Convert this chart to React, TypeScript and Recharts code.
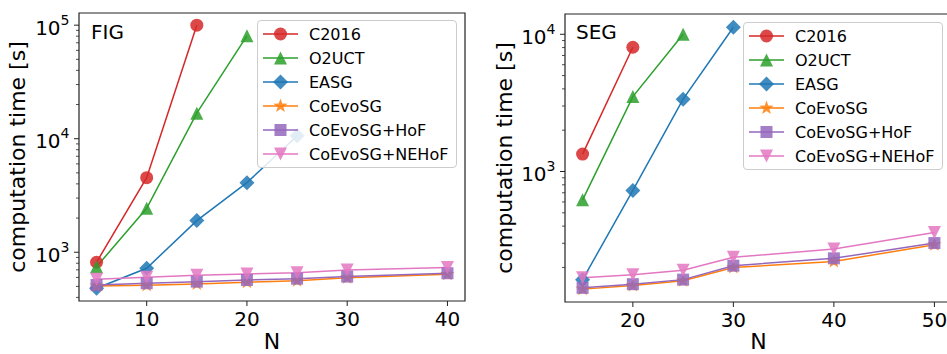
import { LineChart, Line, XAxis, YAxis, ReferenceArea, Legend } from "recharts";

// FIG panel
const FIG_N = [5, 10, 15, 20, 25, 30, 40];
const FIG_C2016 = [816, 4540, 100000];
const FIG_O2UCT = [745, 2440, 16800, 80500];
const FIG_EASG = [482, 722, 1900, 4100, 10600];
const FIG_COEVOSG = [505, 511, 525, 545, 562, 597, 640];
const FIG_HOF = [515, 533, 551, 570, 585, 610, 653];
const FIG_NEHOF = [578, 602, 627, 644, 661, 698, 732];

// SEG panel
const SEG_N = [15, 20, 25, 30, 40, 50];
const SEG_C2016 = [1339, 8040];
const SEG_O2UCT = [622, 3515, 10000];
const SEG_EASG = [163, 728, 3365, 11250];
const SEG_COEVOSG = [139, 148, 160, 200, 221, 293];
const SEG_HOF = [142, 151, 163, 206, 233, 301];
const SEG_NEHOF = [168, 177, 191, 237, 272, 359];

const FIG_X_TICKS = [10, 20, 30, 40];
const SEG_X_TICKS = [20, 30, 40, 50];
const FIG_Y_MAJOR = [1000, 10000, 100000];
const SEG_Y_MAJOR = [1000, 10000];

const SERIES = [
  { key: "c2016", name: "C2016", color: "#d62728", shape: "circle" },
  { key: "o2uct", name: "O2UCT", color: "#2ca02c", shape: "triUp" },
  { key: "easg", name: "EASG", color: "#1f77b4", shape: "diamond" },
  { key: "coevosg", name: "CoEvoSG", color: "#ff7f0e", shape: "star" },
  { key: "hof", name: "CoEvoSG+HoF", color: "#9467bd", shape: "square" },
  { key: "nehof", name: "CoEvoSG+NEHoF", color: "#e377c2", shape: "triDown" },
];

function buildRows(n: number[], cols: Record<string, number[]>) {
  return n.map((v, i) => {
    const row: any = { N: v };
    for (const k of Object.keys(cols)) row[k] = cols[k][i];
    return row;
  });
}

const figRows = buildRows(FIG_N, {
  c2016: FIG_C2016, o2uct: FIG_O2UCT, easg: FIG_EASG,
  coevosg: FIG_COEVOSG, hof: FIG_HOF, nehof: FIG_NEHOF,
});
const segRows = buildRows(SEG_N, {
  c2016: SEG_C2016, o2uct: SEG_O2UCT, easg: SEG_EASG,
  coevosg: SEG_COEVOSG, hof: SEG_HOF, nehof: SEG_NEHOF,
});

// major + minor log ticks inside the domain
function logTicks(domain: number[], majors: number[]) {
  const out: number[] = [];
  for (let d = 1; d <= 6; d++) {
    for (let k = 1; k <= 9; k++) {
      const v = k * Math.pow(10, d);
      if (v >= domain[0] && v <= domain[1]) out.push(v);
    }
  }
  return out.filter((v) => !majors.includes(v)).concat(majors).sort((a, b) => a - b);
}

function Marker({ shape, cx, cy, color }: { shape: string; cx: number; cy: number; color: string }) {
  const op = 0.85;
  if (shape === "circle") return <circle cx={cx} cy={cy} r={6.5} fill={color} fillOpacity={op} />;
  if (shape === "triUp") {
    const s = 6.5;
    return <polygon points={`${cx},${cy - s} ${cx - s},${cy + s} ${cx + s},${cy + s}`} fill={color} fillOpacity={op} />;
  }
  if (shape === "triDown") {
    const s = 6.5;
    return <polygon points={`${cx},${cy + s} ${cx - s},${cy - s} ${cx + s},${cy - s}`} fill={color} fillOpacity={op} />;
  }
  if (shape === "diamond") {
    const s = 7.5;
    return <polygon points={`${cx},${cy - s} ${cx + s},${cy} ${cx},${cy + s} ${cx - s},${cy}`} fill={color} fillOpacity={op} />;
  }
  if (shape === "square") {
    const s = 6;
    return <rect x={cx - s} y={cy - s} width={2 * s} height={2 * s} fill={color} fillOpacity={op} />;
  }
  // star
  const pts: string[] = [];
  for (let i = 0; i < 10; i++) {
    const r = i % 2 === 0 ? 7.5 : 3;
    const a = -Math.PI / 2 + (i * Math.PI) / 5;
    pts.push(`${cx + r * Math.cos(a)},${cy + r * Math.sin(a)}`);
  }
  return <polygon points={pts.join(" ")} fill={color} fillOpacity={op} />;
}

function makeDot(shape: string, color: string) {
  return (p: any) => {
    if (p.cx == null || p.cy == null || p.value == null || Number.isNaN(p.cy)) return <g key={`d-${p.index}`} />;
    return (
      <g key={`d-${p.index}`}>
        <Marker shape={shape} cx={p.cx} cy={p.cy} color={color} />
      </g>
    );
  };
}

const YTick = (props: any) => {
  const { x, y, payload } = props;
  const exp = Math.log10(payload.value);
  const major = Math.abs(exp - Math.round(exp)) < 1e-6;
  return (
    <g>
      <line x1={x} x2={x - (major ? 5 : 3)} y1={y} y2={y} stroke="#222" strokeWidth={major ? 1 : 0.8} />
      {major && (
        <text x={x - 9.5} y={y + 9.5} textAnchor="end" fontSize={20} fill="#000">
          10
          <tspan dy={-10} fontSize={14}>{Math.round(exp)}</tspan>
        </text>
      )}
    </g>
  );
};

const XTick = (props: any) => {
  const { x, y, payload } = props;
  return (
    <g>
      <line x1={x} x2={x} y1={y} y2={y + 5} stroke="#222" strokeWidth={1} />
      <text x={x} y={y + 25} textAnchor="middle" fontSize={20} fill="#000">
        {payload.value}
      </text>
    </g>
  );
};

function LegendBox() {
  return (
    <div
      style={{
        boxSizing: "border-box",
        width: 200,
        height: 148,
        border: "1px solid #cccccc",
        borderRadius: 4,
        background: "rgba(255,255,255,0.85)",
        paddingTop: 1,
      }}
    >
      {SERIES.map((s) => (
        <div key={s.key} style={{ display: "flex", alignItems: "center", height: 24 }}>
          <svg width={51} height={24} style={{ display: "block" }}>
            <line x1={5} x2={40} y1={12} y2={12} stroke={s.color} strokeWidth={1.5} />
            <Marker shape={s.shape} cx={22.5} cy={12} color={s.color} />
          </svg>
          <span style={{ fontSize: 16, color: "#000", whiteSpace: "nowrap" }}>{s.name}</span>
        </div>
      ))}
    </div>
  );
}

function Panel(props: {
  rows: any[];
  title: string;
  xDomain: number[];
  yDomain: number[];
  xTicks: number[];
  yMajor: number[];
  width: number;
  marginTop: number;
  marginRight: number;
  yAxisWidth: number;
  xAxisHeight: number;
  yLabelOffset: number;
  titleOffset: number;
  legendLeft: number;
  legendTop: number;
}) {
  const yTicks = logTicks(props.yDomain, props.yMajor);
  return (
    <LineChart
      width={props.width}
      height={354}
      data={props.rows}
      margin={{ top: props.marginTop, right: props.marginRight, left: 0, bottom: 0 }}
    >
      <XAxis
        dataKey="N"
        type="number"
        domain={props.xDomain}
        allowDataOverflow
        ticks={props.xTicks}
        interval={0}
        tick={<XTick />}
        tickLine={false}
        tickSize={0}
        tickMargin={0}
        axisLine={false}
        height={props.xAxisHeight}
        label={{ value: "N", position: "insideBottom", offset: 5, fontSize: 22, fill: "#000" }}
      />
      <YAxis
        type="number"
        scale="log"
        domain={props.yDomain}
        allowDataOverflow
        ticks={yTicks}
        interval={0}
        tick={<YTick />}
        tickLine={false}
        tickSize={0}
        tickMargin={0}
        axisLine={false}
        width={props.yAxisWidth}
        label={{
          value: "computation time [s]",
          angle: -90,
          position: "insideLeft",
          offset: props.yLabelOffset,
          fontSize: 22,
          fill: "#000",
          style: { textAnchor: "middle" },
        }}
      />
      <ReferenceArea
        x1={props.xDomain[0]}
        x2={props.xDomain[1]}
        y1={props.yDomain[0]}
        y2={props.yDomain[1]}
        fill="none"
        stroke="#222"
        strokeWidth={1.2}
        ifOverflow="visible"
        label={{ value: props.title, position: "insideTopLeft", offset: props.titleOffset, fontSize: 20, fill: "#000" }}
      />
      {SERIES.map((s) => (
        <Line
          key={s.key}
          dataKey={s.key}
          name={s.name}
          type="linear"
          stroke={s.color}
          strokeWidth={1.5}
          dot={makeDot(s.shape, s.color)}
          activeDot={false}
          isAnimationActive={false}
        />
      ))}
      <Legend
        layout="horizontal"
        verticalAlign="middle"
        align="center"
        wrapperStyle={{ left: props.legendLeft, top: props.legendTop, width: 200, height: 148 }}
        content={() => <LegendBox />}
      />
    </LineChart>
  );
}

export default function App() {
  return (
    <div
      style={{
        position: "fixed",
        left: 0,
        top: 0,
        width: 947,
        height: 354,
        overflow: "hidden",
        background: "#fff",
        fontFamily: '"DejaVu Sans", sans-serif',
      }}
    >
      <div style={{ position: "absolute", left: 0, top: 0 }}>
        <Panel
          rows={figRows}
          title="FIG"
          xDomain={[3.25, 41.75]}
          yDomain={[372, 128000]}
          xTicks={FIG_X_TICKS}
          yMajor={FIG_Y_MAJOR}
          width={475}
          marginTop={13}
          marginRight={10}
          yAxisWidth={79}
          xAxisHeight={53}
          yLabelOffset={17.5}
          titleOffset={12}
          legendLeft={257}
          legendTop={20}
        />
      </div>
      <div style={{ position: "absolute", left: 480, top: 0 }}>
        <Panel
          rows={segRows}
          title="SEG"
          xDomain={[13.25, 51.75]}
          yDomain={[112, 14050]}
          xTicks={SEG_X_TICKS}
          yMajor={SEG_Y_MAJOR}
          width={480}
          marginTop={14}
          marginRight={8}
          yAxisWidth={85}
          xAxisHeight={52}
          yLabelOffset={24.5}
          titleOffset={11}
          legendLeft={263}
          legendTop={22}
        />
      </div>
    </div>
  );
}
